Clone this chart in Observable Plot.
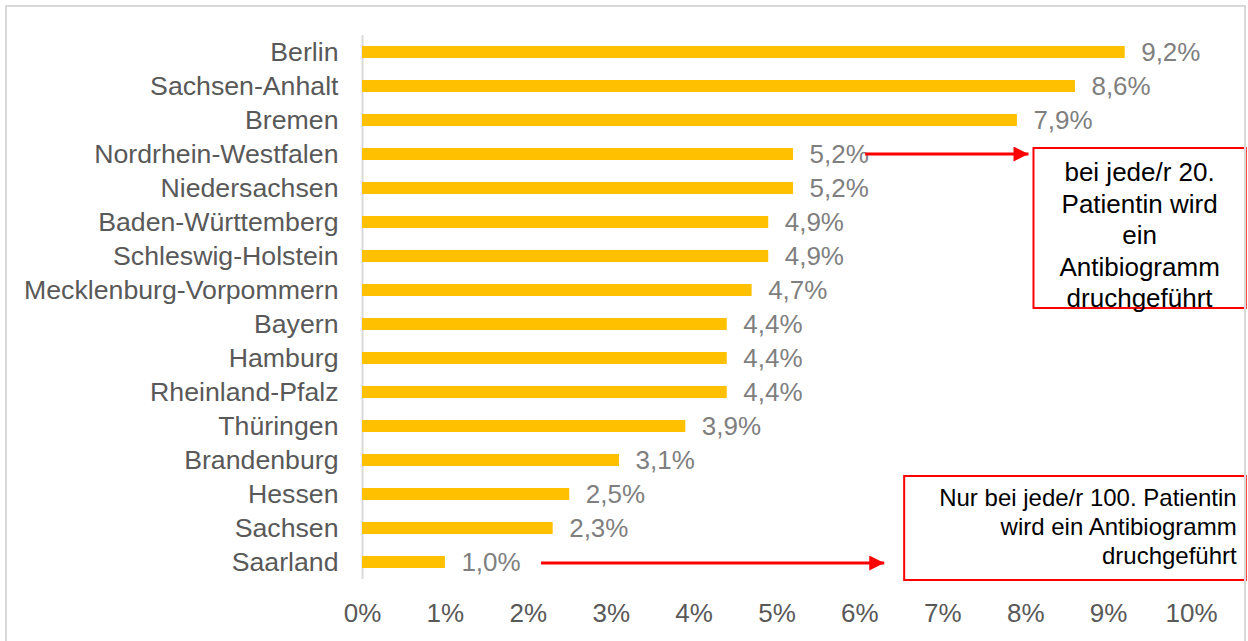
<!DOCTYPE html>
<html>
<head>
<meta charset="utf-8">
<script src="https://cdn.jsdelivr.net/npm/d3@7"></script>
<script src="https://cdn.jsdelivr.net/npm/@observablehq/plot@0.6"></script>
<style>
  html, body { margin: 0; padding: 0; background: #fff; }
  #wrap { position: relative; width: 1248px; height: 641px; overflow: hidden; }
  #border { position: absolute; left: 5px; top: 5px; width: 1241px; height: 650px; border: 2px solid #d9d9d9; box-sizing: border-box; pointer-events: none; }
  svg { display: block; }
</style>
</head>
<body>
<div id="wrap"><div id="border"></div></div>
<script>
const states = ["Berlin","Sachsen-Anhalt","Bremen","Nordrhein-Westfalen","Niedersachsen","Baden-Württemberg","Schleswig-Holstein","Mecklenburg-Vorpommern","Bayern","Hamburg","Rheinland-Pfalz","Thüringen","Brandenburg","Hessen","Sachsen","Saarland"];
const values = [9.2, 8.6, 7.9, 5.2, 5.2, 4.9, 4.9, 4.7, 4.4, 4.4, 4.4, 3.9, 3.1, 2.5, 2.3, 1.0];
const xTicks = [0,1,2,3,4,5,6,7,8,9,10];
const note1 = ["bei jede/r 20.", "Patientin wird", "ein", "Antibiogramm", "druchgeführt"];
const note2 = ["Nur bei jede/r 100. Patientin", "wird ein Antibiogramm", "druchgeführt"];

const data = states.map((s, i) => ({state: s, value: values[i]}));
const fmt = v => v.toFixed(1).replace(".", ",") + "%";
const font = "'Liberation Sans', Arial, sans-serif";

const chart = Plot.plot({
  width: 1248, height: 641,
  marginLeft: 362, marginRight: 57, marginTop: 35, marginBottom: 62,
  x: {domain: [0, 10]},
  y: {domain: states, padding: 0},
  style: {fontFamily: font, fontSize: "26px", color: "#595959", background: "transparent"},
  marks: [
    Plot.ruleX([0], {stroke: "#d9d9d9", strokeWidth: 2}),
    Plot.barX(data, {x: "value", y: "state", fill: "#FFC000", insetTop: 11, insetBottom: 11}),
    Plot.text(data, {x: "value", y: "state", text: d => fmt(d.value), dx: 16, textAnchor: "start", fill: "#7f7f7f", fontSize: 26}),
    Plot.axisY({tickSize: 0, tickPadding: 24, fontSize: 26.7, label: null}),
    Plot.axisX({ticks: xTicks, tickFormat: d => d + "%", tickSize: 0, tickPadding: 24, fontSize: 26, label: null})
  ]
});
document.getElementById("wrap").prepend(chart);

// annotations positioned through the chart's scales
const xs = chart.scale("x"), ys = chart.scale("y");
const X = v => xs.apply(v);
const Yc = s => ys.apply(s) + ys.bandwidth / 2;
const svg = d3.select(chart);
const defs = svg.append("defs");
defs.append("marker").attr("id", "ah").attr("viewBox", "0 0 10 10").attr("refX", 10).attr("refY", 5)
  .attr("markerWidth", 5.3).attr("markerHeight", 5).attr("markerUnits", "strokeWidth").attr("orient", "auto")
  .append("path").attr("d", "M0,0L10,5L0,10Z").attr("fill", "#ff0000");

const g = svg.append("g").attr("font-family", font);
// arrows
g.append("line").attr("x1", X(6.07)).attr("x2", X(8.04)).attr("y1", Yc("Nordrhein-Westfalen")).attr("y2", Yc("Nordrhein-Westfalen"))
  .attr("stroke", "#ff0000").attr("stroke-width", 3).attr("marker-end", "url(#ah)");
g.append("line").attr("x1", X(2.16)).attr("x2", X(6.3)).attr("y1", Yc("Saarland") + 1).attr("y2", Yc("Saarland") + 1)
  .attr("stroke", "#ff0000").attr("stroke-width", 3).attr("marker-end", "url(#ah)");

// box 1
const b1 = {x1: X(8.1), x2: X(10.66), y1: Yc("Nordrhein-Westfalen") - 6, y2: Yc("Bayern") - 16};
g.append("rect").attr("x", b1.x1).attr("y", b1.y1).attr("width", b1.x2 - b1.x1).attr("height", b1.y2 - b1.y1)
  .attr("fill", "#fff").attr("stroke", "#ff0000").attr("stroke-width", 2);
g.selectAll(null).data(note1).join("text")
  .attr("x", (b1.x1 + b1.x2) / 2).attr("y", (d, i) => b1.y1 + 24 + i * 31.5)
  .attr("dy", "0.35em").attr("text-anchor", "middle").attr("font-size", 26).attr("fill", "#000").text(d => d);

// box 2
const b2 = {x1: X(6.54), x2: X(10.66), y1: Yc("Hessen") - 18, y2: Yc("Saarland") + 18};
g.append("rect").attr("x", b2.x1).attr("y", b2.y1).attr("width", b2.x2 - b2.x1).attr("height", b2.y2 - b2.y1)
  .attr("fill", "#fff").attr("stroke", "#ff0000").attr("stroke-width", 2);
g.selectAll(null).data(note2).join("text")
  .attr("x", b2.x2 - 9).attr("y", (d, i) => b2.y1 + 22 + i * 29)
  .attr("dy", "0.35em").attr("text-anchor", "end").attr("font-size", 24).attr("fill", "#000").text(d => d);
</script>
</body>
</html>
